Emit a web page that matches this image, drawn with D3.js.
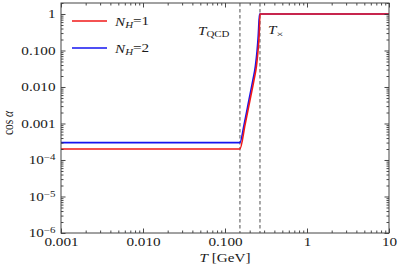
<!DOCTYPE html>
<html>
<head>
<meta charset="utf-8">
<script src="https://cdn.jsdelivr.net/npm/d3@7"></script>
<style>
  body { margin: 0; background: #fff; }
  text { font-family: "Liberation Serif", "Times New Roman", serif; fill: #1a1a1a; }
</style>
</head>
<body>
<div id="chart"></div>
<script>
var width = 398,
    height = 275;
var margin = {top: 3, right: 9, bottom: 42, left: 61},
    graphWidth = width - margin.left - margin.right,
    graphHeight = height - margin.top - margin.bottom;
var stretch = 1.32; // the reference text is wider than it is tall
var fontSize = 11.5;

// data
var T1 = [0.001, 0.152, 0.1755, 0.2018, 0.226, 0.242, 0.252, 0.261, 0.267, 10];
var cos1 = [2e-4, 2e-4, 9.2e-4, 4.4e-3, 0.0156, 0.0378, 0.0913, 0.266, 1, 1];
var T2 = [0.001, 0.152, 0.1706, 0.196, 0.219, 0.235, 0.2455, 0.2547, 0.2635, 10];
var cos2 = [3e-4, 3e-4, 9.2e-4, 4.4e-3, 0.0156, 0.0378, 0.0913, 0.266, 1, 1];
var series = ["N_H=1", "N_H=2"];
var colors = ["#f01818", "#1414f0"];
var T_QCD = 0.152,
    T_cross = 0.267;

var xMajor = [0.001, 0.01, 0.1, 1, 10];
var xLabels = ["0.001", "0.010", "0.100", "1", "10"];
var yMajor = [1e-6, 1e-5, 1e-4, 1e-3, 1e-2, 1e-1, 1];
var yLabels = [["10", "\u22126"], ["10", "\u22125"], ["10", "\u22124"], ["0.001"], ["0.010"], ["0.100"], ["1"]];

var svg = d3.select("#chart").append("svg")
  .attr("width", width)
  .attr("height", height);

var g = svg.append("g")
  .attr("transform", "translate(" + margin.left + "," + margin.top + ")");

var xScale = d3.scaleLog().domain([0.001, 10]).range([0, graphWidth]);
var yScale = d3.scaleLog().domain([1e-6, 2]).range([graphHeight, 0]);

//minor ticks 2..9 of each decade
function minors(lo, hi) {
  var out = [];
  for (var p = lo; p < hi; p *= 10) {
    for (var k = 2; k <= 9; k++) {
      out.push(p * k);
    }
  }
  return out;
}
var xMinor = minors(0.001, 10);
var yMinor = minors(1e-6, 1).concat([2]);

g.append("defs").append("clipPath").attr("id", "clip")
  .append("rect").attr("width", graphWidth).attr("height", graphHeight);

//vertical dashed lines
g.selectAll(".vline")
  .data([T_QCD, T_cross])
  .enter().append("line")
    .attr("class", "vline")
    .attr("x1", function(d) { return xScale(d); })
    .attr("x2", function(d) { return xScale(d); })
    .attr("y1", 0)
    .attr("y2", graphHeight)
    .attr("stroke", "#8a8a8a")
    .attr("stroke-width", 1.5)
    .attr("stroke-dasharray", "3.5,2.5");

//curves, blue under red
var line = d3.line()
  .x(function(d) { return xScale(d[0]); })
  .y(function(d) { return yScale(d[1]); })
  .curve(d3.curveMonotoneX);

var curves = [d3.zip(T2, cos2), d3.zip(T1, cos1)];
g.append("g").attr("clip-path", "url(#clip)")
  .selectAll("path")
  .data(curves)
  .enter().append("path")
    .attr("d", line)
    .attr("fill", "none")
    .attr("stroke", function(d, i) { return i == 0 ? colors[1] : colors[0]; })
    .attr("stroke-width", 1.6);

//axes, ticks pointing inward on all four sides
function styleAxis(sel) {
  sel.select(".domain").remove();
  sel.selectAll("line").attr("stroke", "#333").attr("stroke-width", 0.9);
}
g.append("g").attr("transform", "translate(0," + graphHeight + ")")
  .call(d3.axisBottom(xScale).tickValues(xMinor).tickSize(-2.5).tickFormat(""))
  .call(styleAxis);
g.append("g").call(d3.axisTop(xScale).tickValues(xMinor).tickSize(-2.5).tickFormat("")).call(styleAxis);
g.append("g").call(d3.axisLeft(yScale).tickValues(yMinor).tickSize(-2.5).tickFormat("")).call(styleAxis);
g.append("g").attr("transform", "translate(" + graphWidth + ",0)")
  .call(d3.axisRight(yScale).tickValues(yMinor).tickSize(-2.5).tickFormat("")).call(styleAxis);

g.append("g").call(d3.axisTop(xScale).tickValues(xMajor).tickSize(-4.5).tickFormat("")).call(styleAxis);
g.append("g").attr("transform", "translate(" + graphWidth + ",0)")
  .call(d3.axisRight(yScale).tickValues(yMajor).tickSize(-4.5).tickFormat("")).call(styleAxis);

var xAxis = g.append("g")
  .attr("class", "x-axis")
  .attr("transform", "translate(0," + graphHeight + ")")
  .call(d3.axisBottom(xScale).tickValues(xMajor).tickSize(-4.5).tickPadding(5)
    .tickFormat(function(d, i) { return xLabels[i]; }))
  .call(styleAxis);
xAxis.selectAll("text")
  .attr("font-size", fontSize)
  .attr("font-family", null)
  .attr("transform", "scale(" + stretch + ",1)");

var yAxis = g.append("g")
  .attr("class", "y-axis")
  .call(d3.axisLeft(yScale).tickValues(yMajor).tickSize(-4.5).tickPadding(5).tickFormat(""))
  .call(styleAxis);
yAxis.selectAll(".tick text")
  .attr("font-size", fontSize)
  .attr("font-family", null)
  .attr("x", -5.5 / stretch)
  .attr("transform", "scale(" + stretch + ",1)")
  .each(function(d, i) {
    var t = d3.select(this);
    t.text(yLabels[i][0]);
    if (yLabels[i].length > 1) {
      t.append("tspan")
        .attr("dy", "-0.45em")
        .attr("font-size", "0.72em")
        .text(yLabels[i][1]);
    }
  });

g.append("rect")
  .attr("width", graphWidth)
  .attr("height", graphHeight)
  .attr("fill", "none")
  .attr("stroke", "#444")
  .attr("stroke-width", 1);

//axis titles
svg.append("text")
  .attr("text-anchor", "middle")
  .attr("font-size", fontSize)
  .attr("transform", "translate(" + (margin.left + graphWidth / 2) + ",262) scale(" + stretch + ",1)")
  .html('<tspan font-style="italic">T</tspan> [GeV]');

svg.append("text")
  .attr("text-anchor", "middle")
  .attr("font-size", fontSize)
  .attr("transform", "translate(13,123) scale(" + stretch + ",1) rotate(-90)")
  .html('cos <tspan font-style="italic">\u03b1</tspan>');

//legend
var legend = svg.append("g").attr("transform", "translate(72,0)");
var legendY = [21, 48];
series.forEach(function(s, i) {
  legend.append("line")
    .attr("x1", 0).attr("x2", 35)
    .attr("y1", legendY[i]).attr("y2", legendY[i])
    .attr("stroke", colors[i])
    .attr("stroke-width", 1.6);
  var parts = s.split("_")[1].split("=");
  legend.append("text")
    .attr("font-size", fontSize)
    .attr("transform", "translate(43," + (legendY[i] + 4.5) + ") scale(" + stretch + ",1)")
    .html('<tspan font-style="italic">N</tspan><tspan font-style="italic" font-size="0.72em" dy="0.3em">' + parts[0] +
      '</tspan><tspan dy="-0.3em">=' + parts[1] + '</tspan>');
});

//gridline labels
svg.append("text")
  .attr("font-size", fontSize)
  .attr("transform", "translate(198,35) scale(" + stretch + ",1)")
  .html('<tspan font-style="italic">T</tspan><tspan font-size="0.72em" dy="0.3em">QCD</tspan>');
svg.append("text")
  .attr("font-size", fontSize)
  .attr("transform", "translate(268,34) scale(" + stretch + ",1)")
  .html('<tspan font-style="italic">T</tspan><tspan font-size="0.8em" dy="0.3em">\u00d7</tspan>');
</script>
</body>
</html>
